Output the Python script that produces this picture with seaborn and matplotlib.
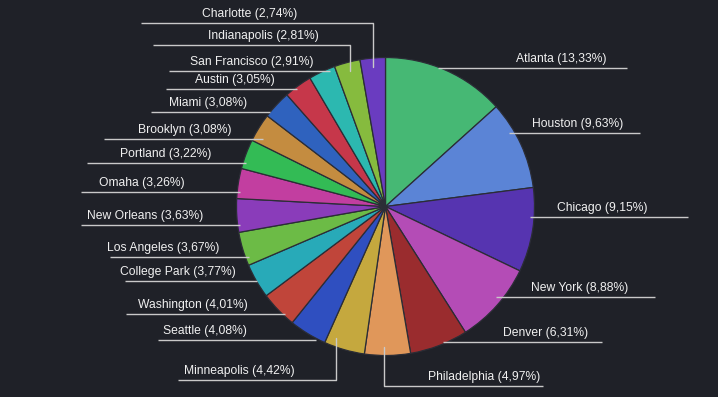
import numpy as np
import matplotlib
matplotlib.use("Agg")
import matplotlib.pyplot as plt
import seaborn as sns

# Данные
cities = ["Atlanta", "Houston", "Chicago", "New York", "Denver", "Philadelphia",
          "Minneapolis", "Seattle", "Washington", "College Park", "Los Angeles",
          "New Orleans", "Omaha", "Portland", "Brooklyn", "Miami", "Austin",
          "San Francisco", "Indianapolis", "Charlotte"]
shares = [13.33, 9.63, 9.15, 8.88, 6.31, 4.97, 4.42, 4.08, 4.01, 3.77, 3.67,
          3.63, 3.26, 3.22, 3.08, 3.08, 3.05, 2.91, 2.81, 2.74]
colors = ["#46b874", "#5b84d6", "#5634b0", "#b44cb6", "#9a2c2e", "#e0975a",
          "#c5a83e", "#2f4fc0", "#c0453a", "#28aab8", "#6cbb46", "#8a3cba",
          "#c23ea0", "#33bb55", "#c48c40", "#2f62be", "#c6374a", "#2cb8b0",
          "#86bb3e", "#6a3cc0"]

# Раскладка подписей (в пикселях, y сверху): центр текста, y линии, x начала/конца
text_x = [561, 578, 602, 580, 546, 484, 239, 205, 193, 178, 163, 145, 142,
          166, 185, 208, 235, 252, 263, 250]
line_y = [68, 133, 217, 297, 342, 386, 380, 340, 314, 281, 257, 225, 192,
          163, 139, 112, 89, 71, 45, 23]
line_x0 = [438, 509, 530, 496, 443, 384, 178, 158, 126, 125, 110, 81, 81,
           87, 104, 151, 166, 169, 153, 141]
line_x1 = [627, 640, 688, 655, 602, 543, 336, 316, 285, 257, 249, 240, 240,
           246, 263, 270, 297, 330, 350, 373]
elbow = ["Philadelphia", "Minneapolis", "Indianapolis", "Charlotte"]

W, H = 718, 397
bg = "#1f2128"
cx, cy, R = 385.5, H - 206.5, 149

sns.set_theme(style="dark", rc={"figure.facecolor": bg, "axes.facecolor": bg})
plt.rcParams["font.family"] = ["Liberation Sans", "DejaVu Sans"]

fig = plt.figure(figsize=(W / 100, H / 100), dpi=100)
ax = fig.add_axes([0, 0, 1, 1])
ax.set_facecolor(bg)

ax.pie(shares, colors=colors, startangle=90, counterclock=False,
       center=(cx, cy), radius=R,
       wedgeprops=dict(edgecolor="#2b2d36", linewidth=0.9))

line_c = "#c9c9c9"
for i, name in enumerate(cities):
    y = H - line_y[i]
    ax.plot([line_x0[i], line_x1[i]], [y, y], color=line_c, lw=1, solid_capstyle="butt")
    if name in elbow:
        # вертикальный отвод до сектора
        vx = line_x0[i] if text_x[i] > cx else line_x1[i]
        dx = vx - cx
        r_in = 0.94 * R
        dy = np.sqrt(max(r_in ** 2 - dx ** 2, 0))
        vy = cy + dy if y > cy else cy - dy
        ax.plot([vx, vx], [y, vy], color=line_c, lw=1)
    ax.text(text_x[i], y + 3, f"{name} ({shares[i]:.2f}%)".replace(".", ","),
            ha="center", va="bottom", color="#f0f0f0", fontsize=8.7)

ax.set_xlim(0, W)
ax.set_ylim(0, H)
ax.set_aspect("equal")
ax.axis("off")

fig.savefig("out.png", dpi=100, facecolor=bg)
